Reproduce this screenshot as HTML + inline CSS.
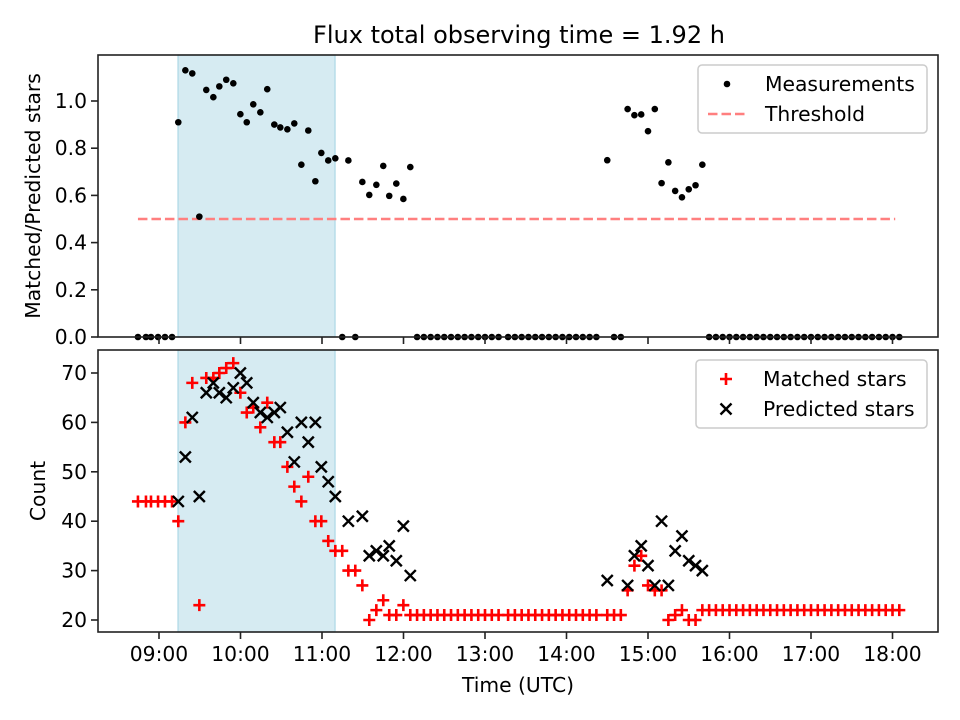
<!DOCTYPE html>
<html><head><meta charset="utf-8"><style>
html,body{margin:0;padding:0;background:#fff;}
svg{display:block;font-family:"DejaVu Sans","Liberation Sans",sans-serif;}
</style></head><body>
<svg id="fig" width="960" height="720" viewBox="0 0 960 720" xmlns="http://www.w3.org/2000/svg"></svg>
<script>
// ---- data (time in minutes since 00:00 UTC) ----
const times = [524.5,530.4,534.1,539.3,544.4,549.6,
554.2,559.4,564.5,569.7,574.8,580.0,584.4,589.5,594.7,599.9,604.6,609.4,614.6,619.7,624.9,629.3,634.5,639.6,644.8,649.9,655.1,659.5,664.6,669.8,674.9,679.4,684.5,689.7,694.8,700.0,705.1,709.5,714.7,719.9,725.0,
730,735,740,745,750,755,760,765,770,775,780,785,790,
797,802,807,812,817,822,827,832,837,842,847,852,857,862,
870,875,880,
885,890,895,900,905,910,915,920,925,930,935,940,
945,950,955,960,965,970,975,980,985,990,995,1000,1005,1010,1015,1020,1025,1030,1035,1040,1045,1050,1055,1060,1065,1070,1075,1080,1085];
const ratios = [0,0,0,0,0,0,
0.91,1.13,1.117,0.51,1.047,1.016,1.062,1.09,1.075,0.944,0.91,0.986,0.952,1.05,0.90,0.888,0.88,0.905,0.73,0.875,0.66,0.78,0.748,0.757,0,0.748,0,0.657,0.602,0.645,0.725,0.598,0.65,0.585,0.72,
0,0,0,0,0,0,0,0,0,0,0,0,0,
0,0,0,0,0,0,0,0,0,0,0,0,0,0,
0.749,0,0,
0.966,0.94,0.943,0.872,0.966,0.652,0.74,0.619,0.592,0.626,0.643,0.73,
0,0,0,0,0,0,0,0,0,0,0,0,0,0,0,0,0,0,0,0,0,0,0,0,0,0,0,0,0];
const matched = [44,44,44,44,44,44,
40,60,68,23,69,69,70,71,72,66,62,63,59,64,56,56,51,47,44,49,40,40,36,34,34,30,30,27,20,22,24,21,21,23,21,
21,21,21,21,21,21,21,21,21,21,21,21,21,
21,21,21,21,21,21,21,21,21,21,21,21,21,21,
21,21,21,
26,31,33,27,26,26,20,21,22,20,20,22,
22,22,22,22,22,22,22,22,22,22,22,22,22,22,22,22,22,22,22,22,22,22,22,22,22,22,22,22,22];
const predicted = [null,null,null,null,null,null,
44,53,61,45,66,68,66,65,67,70,68,64,62,61,62,63,58,52,60,56,60,51,48,45,null,40,null,41,33,34,33,35,32,39,29,
null,null,null,null,null,null,null,null,null,null,null,null,null,
null,null,null,null,null,null,null,null,null,null,null,null,null,null,
28,null,null,
27,33,35,31,27,40,27,34,37,32,31,30,
null,null,null,null,null,null,null,null,null,null,null,null,null,null,null,null,null,null,null,null,null,null,null,null,null,null,null,null,null];
const threshold = 0.5;
const thresholdRange = [524.5,1082];
const spanRange = [554,669.6];
const xTickValues = [540,600,660,720,780,840,900,960,1020,1080];
const xTickLabels = ["09:00","10:00","11:00","12:00","13:00","14:00","15:00","16:00","17:00","18:00"];
const topTicks = [0,0.2,0.4,0.6,0.8,1.0];
const topTickLabels = ["0.0","0.2","0.4","0.6","0.8","1.0"];
const botTicks = [20,30,40,50,60,70];
const botTickLabels = ["20","30","40","50","60","70"];

// ---- scales ----
const L=98,R=938, T1=55,B1=337, T2=350,B2=632;
const xs = m => 159 + (m-540)*81.5/60;
const y1 = v => 337 - v*236;
const y2 = v => 620 - (v-20)*4.94;
const FS = 20.3;

const svg=document.getElementById('fig');
const NS='http://www.w3.org/2000/svg';
function mk(tag,attrs,parent){const e=document.createElementNS(NS,tag);for(const k in attrs)e.setAttribute(k,attrs[k]);(parent||svg).appendChild(e);return e;}

// title
let t=mk('text',{x:519,y:43,'text-anchor':'middle','font-size':24,fill:'#000'});
t.textContent='Flux total observing time = 1.92 h';



function panel(top,bot,name){
  const g=mk('g',{});
  
  
  const sp=mk('rect',{x:xs(spanRange[0]),y:top,width:xs(spanRange[1])-xs(spanRange[0]),height:bot-top,fill:'#add8e6','fill-opacity':0.5,stroke:'#add8e6','stroke-width':1.2},g);
  
  
  return g;
}
const gTop=panel(T1,B1,'ratio-panel');
const gBot=panel(T2,B2,'count-panel');

// threshold
const th=mk('line',{x1:xs(thresholdRange[0]),x2:xs(thresholdRange[1]),y1:y1(threshold),y2:y1(threshold),stroke:'#ff7f7f','stroke-width':2.5,'stroke-dasharray':'9.5,4'},gTop);



// measurements
for(let i=0;i<times.length;i++){
  const c=mk('circle',{cx:xs(times[i]),cy:y1(ratios[i]),r:3.3,fill:'#000'},gTop);
  
  
}
// matched (+)
for(let i=0;i<times.length;i++){
  const x=xs(times[i]),y=y2(matched[i]);
  const p=mk('path',{d:`M${x-6},${y}H${x+6}M${x},${y-6}V${y+6}`,stroke:'#ff0000','stroke-width':2.6,fill:'none'},gBot);
  
  
}
// predicted (x)
for(let i=0;i<times.length;i++){
  if(predicted[i]===null)continue;
  const x=xs(times[i]),y=y2(predicted[i]);
  const p=mk('path',{d:`M${x-5.5},${y-5.5}L${x+5.5},${y+5.5}M${x-5.5},${y+5.5}L${x+5.5},${y-5.5}`,stroke:'#000','stroke-width':2.4,fill:'none'},gBot);
  
  
}

// axes frames & ticks
function axes(top,bot,yt,ytl,ysc,showX,nm){
  const f=mk('rect',{x:L,y:top,width:R-L,height:bot-top,fill:'none',stroke:'#222','stroke-width':1.6});
  
  
  for(let i=0;i<xTickValues.length;i++){
    const x=xs(xTickValues[i]);
    mk('line',{x1:x,x2:x,y1:bot,y2:bot+7,stroke:'#222','stroke-width':1.6});
    if(showX){
      const tx=mk('text',{x:x,y:bot+29,'text-anchor':'middle','font-size':FS,fill:'#000'});
      tx.textContent=xTickLabels[i];
      
      
    }
  }
  for(let i=0;i<yt.length;i++){
    const y=ysc(yt[i]);
    mk('line',{x1:L-7,x2:L,y1:y,y2:y,stroke:'#222','stroke-width':1.6});
    const ty=mk('text',{x:L-11,y:y+7,'text-anchor':'end','font-size':FS,fill:'#000'});
    ty.textContent=ytl[i];
    
    
  }
}
axes(T1,B1,topTicks,topTickLabels,y1,false,'ratio-axes');
axes(T2,B2,botTicks,botTickLabels,y2,true,'count-axes');

// axis labels
let yl=mk('text',{x:0,y:0,'text-anchor':'middle','font-size':FS,transform:'translate(40,196) rotate(-90)'});
yl.textContent='Matched/Predicted stars';


let yl2=mk('text',{x:0,y:0,'text-anchor':'middle','font-size':FS,transform:'translate(45,491) rotate(-90)'});
yl2.textContent='Count';


let xl=mk('text',{x:518,y:692,'text-anchor':'middle','font-size':FS});
xl.textContent='Time (UTC)';



// legends
function legendBox(x,y,w,h,nm){
  const r=mk('rect',{x:x,y:y,width:w,height:h,rx:4,fill:'#fff','fill-opacity':0.8,stroke:'#ccc','stroke-width':1.5});
  
  
}
legendBox(698,65,229,68,'ratio-legend');
let lc=mk('circle',{cx:727,cy:84,r:3.3,fill:'#000'});


let lt=mk('text',{x:765,y:91,'font-size':FS});
lt.textContent='Measurements';


let ll=mk('line',{x1:708,x2:748,y1:114,y2:114,stroke:'#ff7f7f','stroke-width':2.5,'stroke-dasharray':'9.5,4'});


let lt2=mk('text',{x:765,y:121,'font-size':FS});
lt2.textContent='Threshold';



legendBox(696,360,231,68,'count-legend');
let lp=mk('path',{d:'M720,379H732M726,373V385',stroke:'#f00','stroke-width':2.6});


let lt3=mk('text',{x:763,y:386,'font-size':FS});
lt3.textContent='Matched stars';


let lx=mk('path',{d:'M720.5,403.5L731.5,414.5M720.5,414.5L731.5,403.5',stroke:'#000','stroke-width':2.4});


let lt4=mk('text',{x:763,y:416,'font-size':FS});
lt4.textContent='Predicted stars';


</script>
</body></html>
